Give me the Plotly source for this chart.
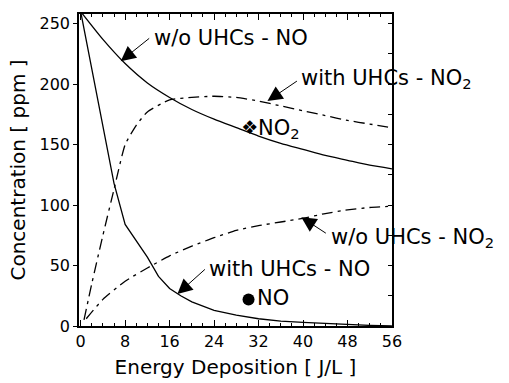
import plotly.graph_objects as go

# Energy deposition (J/L)
x_wo_no = [0, 4, 8, 12, 16, 20, 24, 28, 32, 36, 40, 44, 48, 52, 56]
y_wo_no = [260, 237, 217, 201, 189, 179, 171, 164, 157, 151, 146, 141, 137, 133, 130]

x_w_no = [0, 2, 4, 6, 8, 10, 12, 14, 16, 18, 20, 24, 28, 32, 36, 40, 44, 48, 52, 56]
y_w_no = [260, 213, 164, 118, 84, 71, 57, 41, 31, 25, 20, 13, 9, 6, 4, 3, 2, 1, 0.5, 0]

x_w_no2 = [0.6, 2, 4, 6, 8, 10, 12, 16, 20, 24, 28, 32, 36, 40, 44, 48, 52, 56]
y_w_no2 = [5, 35, 75, 113, 150, 166, 177, 187, 189, 190, 189, 186, 182, 178, 174, 170, 167, 164]

x_wo_no2 = [1, 4, 8, 12, 16, 20, 24, 28, 32, 36, 40, 44, 48, 52, 56]
y_wo_no2 = [6, 22, 37, 48, 58, 66, 73, 79, 83, 86, 89, 93, 96, 98, 99]

pt_no2 = (30.4, 163)
pt_no = (30.2, 22)

x_ticks = [0, 8, 16, 24, 32, 40, 48, 56]
y_ticks = [0, 50, 100, 150, 200, 250]

FONT = "DejaVu Sans"
line = dict(color="black", width=1.3)
dashdot = "11px,5px,3px,5px"

fig = go.Figure()
fig.add_trace(go.Scatter(x=x_wo_no, y=y_wo_no, mode="lines", line=dict(line, shape="spline", smoothing=0.6)))
fig.add_trace(go.Scatter(x=x_w_no, y=y_w_no, mode="lines", line=dict(line)))
fig.add_trace(go.Scatter(x=x_w_no2, y=y_w_no2, mode="lines", line=dict(line, dash=dashdot, shape="spline", smoothing=0.5)))
fig.add_trace(go.Scatter(x=x_wo_no2, y=y_wo_no2, mode="lines", line=dict(line, dash=dashdot, shape="spline", smoothing=0.5)))
fig.add_trace(go.Scatter(x=[pt_no2[0]], y=[pt_no2[1]], mode="text", text=["❖"],
                         textfont=dict(family=FONT, size=19, color="black"), textposition="middle center"))
fig.add_trace(go.Scatter(x=[pt_no[0]], y=[pt_no[1]], mode="markers+text", text=["NO"],
                         marker=dict(color="black", size=12), textposition="middle right",
                         textfont=dict(family=FONT, size=21, color="black")))
fig.add_trace(go.Scatter(x=[0], y=[0], yaxis="y2", mode="markers", marker=dict(opacity=0), hoverinfo="skip"))

ann_font = dict(family=FONT, size=21, color="black")
annotations = []
# arrows (head at data point, tail in pixel offset)
arrows = [
    (7.2, 219, 30, -24),
    (33.6, 186, 31, -21),
    (39.7, 90, 26, 17),
    (17.4, 26.4, 29, -26),
]
for hx, hy, ax, ay in arrows:
    annotations.append(dict(x=hx, y=hy, ax=ax, ay=ay, text="", showarrow=True,
                            arrowhead=2, arrowsize=3, arrowwidth=1, arrowcolor="black"))
labels = [
    (12.9, 238, "w/o UHCs - NO"),
    (39.2, 204, "with UHCs - NO<sub>2</sub>"),
    (44.7, 73, "w/o UHCs - NO<sub>2</sub>"),
    (22.7, 47.5, "with UHCs - NO"),
]
for tx, ty, t in labels:
    annotations.append(dict(x=tx, y=ty, text=t, showarrow=False, xanchor="left",
                            yanchor="middle", font=ann_font))
annotations.append(dict(x=pt_no2[0], y=pt_no2[1], text="NO<sub>2</sub>", showarrow=False,
                        xanchor="left", xshift=6, yanchor="middle", font=ann_font))

fig.update_layout(
    width=509, height=383,
    margin=dict(l=79, r=117, t=14, b=57),
    paper_bgcolor="white", plot_bgcolor="white",
    showlegend=False,
    font=dict(family=FONT, color="black"),
    annotations=annotations,
    xaxis=dict(range=[-0.3, 56.01], tickvals=x_ticks, ticks="inside", ticklen=6, tickwidth=1,
               tickcolor="black", mirror="ticks", showline=True, linecolor="black", linewidth=1.6,
               showgrid=False, zeroline=False, automargin=False,
               minor=dict(dtick=2, ticks="inside", ticklen=3, tickcolor="black", showgrid=False),
               tickfont=dict(family=FONT, size=16),
               title=dict(text="Energy Deposition [ J/L ]", font=dict(family=FONT, size=20), standoff=10)),
    yaxis=dict(range=[0, 258], tickvals=y_ticks, ticks="outside", ticklen=4, tickwidth=1,
               tickcolor="black", showline=True, mirror=True, linecolor="black", linewidth=1.6,
               showgrid=False, zeroline=False, automargin=False,
               tickfont=dict(family=FONT, size=16),
               title=dict(text="Concentration [ ppm ]", font=dict(family=FONT, size=20), standoff=8)),
    yaxis2=dict(range=[0, 258], overlaying="y", side="right", dtick=25, ticks="inside", ticklen=4,
                tickcolor="black", showticklabels=False, showgrid=False, zeroline=False, showline=False,
                automargin=False),
)

fig.write_html("out.html")
